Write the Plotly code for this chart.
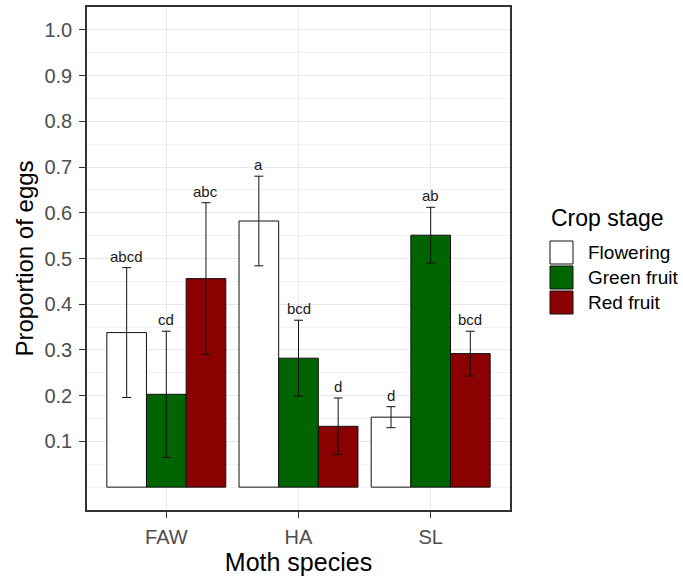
import plotly.graph_objects as go

# ---------------- data ----------------
species = ["FAW", "HA", "SL"]
stages = ["Flowering", "Green fruit", "Red fruit"]

flowering_mean = [0.338, 0.582, 0.153]
green_mean = [0.203, 0.282, 0.551]
red_mean = [0.456, 0.133, 0.292]

flowering_err = [0.142, 0.098, 0.023]
green_err = [0.138, 0.083, 0.061]
red_err = [0.166, 0.062, 0.049]

flowering_letters = ["abcd", "a", "d"]
green_letters = ["cd", "bcd", "ab"]
red_letters = ["abc", "d", "bcd"]

y_ticks = [0.1, 0.2, 0.3, 0.4, 0.5, 0.6, 0.7, 0.8, 0.9, 1.0]
y_tick_text = ["0.1", "0.2", "0.3", "0.4", "0.5", "0.6", "0.7", "0.8", "0.9", "1.0"]
y_minor = [0.0, 0.05, 0.15, 0.25, 0.35, 0.45, 0.55, 0.65, 0.75, 0.85, 0.95, 1.05]

colors = ["#ffffff", "#006400", "#8b0000"]

# ---------------- layout constants ----------------
W, H = 683, 576
ML, MR, MT, MB = 87, 173, 7, 66
PW, PH = W - ML - MR, H - MT - MB
FONT = "Liberation Sans, Arial, sans-serif"


def px_x(p):
    return (p - ML) / PW


def px_y(p):
    return (H - MB - p) / PH


means = [flowering_mean, green_mean, red_mean]
errs = [flowering_err, green_err, red_err]
letters = [flowering_letters, green_letters, red_letters]

fig = go.Figure()
for j, stage in enumerate(stages):
    fig.add_trace(go.Bar(
        name=stage, x=species, y=means[j],
        marker=dict(color=colors[j], line=dict(color="#111111", width=1)),
        error_y=dict(type="data", array=errs[j], color="#111111",
                     thickness=1, width=4.5),
        showlegend=False,
    ))

bargap = 0.1
bw = (1 - bargap) / len(stages)
annotations = []
for j in range(len(stages)):
    for i in range(len(species)):
        annotations.append(dict(
            x=i + (j - 1) * bw, y=means[j][i] + errs[j][i],
            xref="x", yref="y", text=letters[j][i], showarrow=False,
            yanchor="bottom", yshift=1,
            font=dict(family=FONT, size=15, color="#1a1a1a"),
        ))

# manual legend
annotations.append(dict(
    x=px_x(549), y=px_y(218), xref="paper", yref="paper",
    text="Crop stage", showarrow=False, xanchor="left", yanchor="middle",
    font=dict(family=FONT, size=23, color="#000000"),
))
shapes = []
key_top = 241
key_size = 23
key_step = 25
for j, stage in enumerate(stages):
    y0 = key_top + j * key_step
    shapes.append(dict(
        type="rect", xref="paper", yref="paper",
        x0=px_x(550), x1=px_x(550 + key_size),
        y0=px_y(y0 + key_size), y1=px_y(y0),
        fillcolor=colors[j], line=dict(color="#111111", width=1),
    ))
    annotations.append(dict(
        x=px_x(586), y=px_y(y0 + key_size / 2), xref="paper", yref="paper",
        text=stage, showarrow=False, xanchor="left", yanchor="middle",
        font=dict(family=FONT, size=19, color="#000000"),
    ))

fig.update_layout(
    width=W, height=H,
    margin=dict(l=ML, r=MR, t=MT, b=MB, autoexpand=False),
    paper_bgcolor="white", plot_bgcolor="white",
    barmode="group", bargap=bargap, bargroupgap=0,
    font=dict(family=FONT),
    annotations=annotations, shapes=shapes,
    showlegend=False,
)

fig.update_xaxes(
    type="category", range=[-0.6, 2.6],
    showgrid=True, gridcolor="#e8e8e8", gridwidth=1.2,
    showline=True, linecolor="#333333", linewidth=1.6, mirror=True,
    ticks="outside", ticklen=6, tickcolor="#333333", tickwidth=1.2,
    ticklabelstandoff=2,
    tickfont=dict(family=FONT, size=20, color="#4d4d4d"),
    title=dict(text="Moth species", font=dict(family=FONT, size=25, color="#000000"),
               standoff=4),
    automargin=False,
)
fig.update_yaxes(
    range=[-0.05, 1.05], tickmode="array", tickvals=y_ticks, ticktext=y_tick_text,
    showgrid=True, gridcolor="#e8e8e8", gridwidth=1.2, zeroline=False,
    minor=dict(tickmode="array", tickvals=y_minor, showgrid=True,
               gridcolor="#f1f1f1", gridwidth=1, ticks=""),
    showline=True, linecolor="#333333", linewidth=1.6, mirror=True,
    ticks="outside", ticklen=6, tickcolor="#333333", tickwidth=1.2,
    ticklabelstandoff=3,
    tickfont=dict(family=FONT, size=20, color="#4d4d4d"),
    title=dict(text="Proportion of eggs", font=dict(family=FONT, size=24, color="#000000"),
               standoff=4),
    automargin=False,
)

fig.write_html("out.html")
